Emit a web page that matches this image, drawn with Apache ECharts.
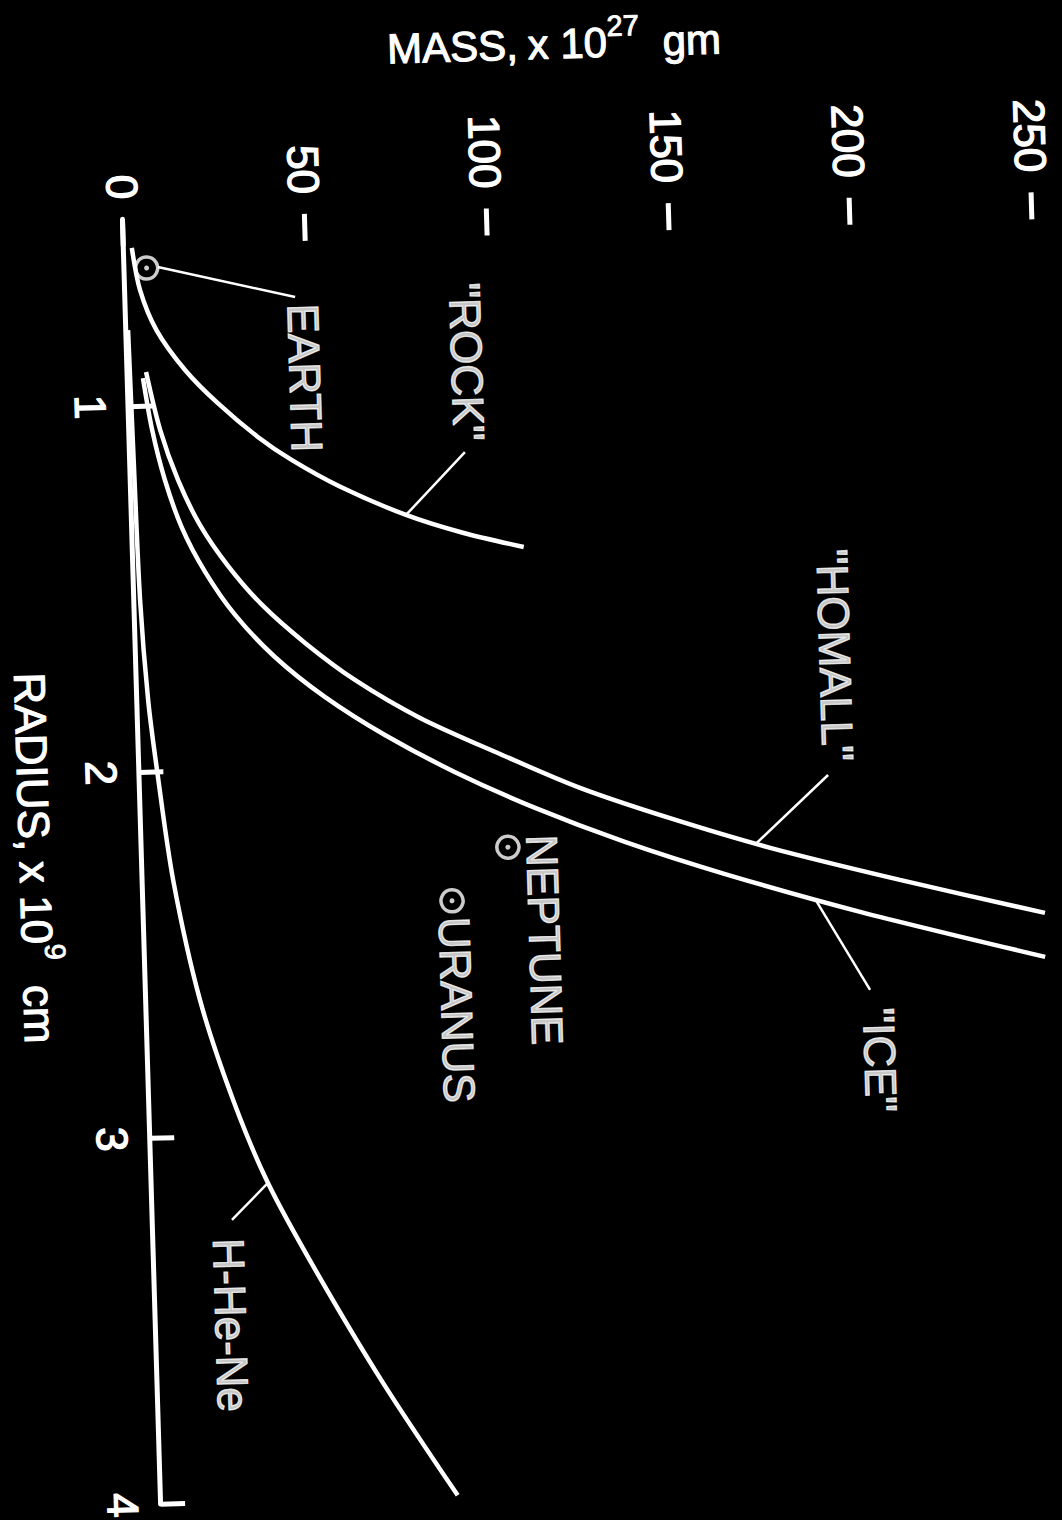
<!DOCTYPE html>
<html>
<head>
<meta charset="utf-8">
<script src="https://cdn.jsdelivr.net/npm/echarts@6/dist/echarts.min.js"></script>
<style>
  html, body { margin: 0; padding: 0; background: #000; width: 1062px; height: 1520px; overflow: hidden; }
  /* The plot is laid out with radius running left-to-right and mass upward,
     then the whole panel is turned so radius runs down the page. */
  #plot {
    position: absolute; left: 0; top: 0;
    width: 1700px; height: 1300px;
    transform-origin: 0 0;
    transform: translate(1215.06px, -63.25px) rotate(88.3deg);
    background: #000;
  }
</style>
</head>
<body>
<div id="plot"></div>
<script>
// Radius in units of 10^9 cm, mass in units of 10^27 g.
const radiusTicks = [1, 2, 3, 4];
const massTicks = [0, 50, 100, 150, 200, 250];

const rockRadius = [0.569, 0.684, 0.795, 0.907, 0.999, 1.095, 1.161, 1.236, 1.320, 1.374, 1.417];
const rockMass   = [2.2, 4.1, 8.3, 15.9, 24.5, 35.3, 44.5, 57.3, 75.4, 91.1, 107.5];

const homallRadius = [0.909, 1.068, 1.206, 1.331, 1.445, 1.554, 1.661, 1.766, 1.875, 1.980, 2.079, 2.169, 2.258, 2.356, 2.458];
const homallMass   = [5.1, 8.5, 13.0, 18.7, 26.1, 35.1, 46.6, 60.0, 77.6, 99.3, 121.0, 145.5, 172.8, 208.2, 247.8];

const iceRadius = [0.925, 1.067, 1.205, 1.337, 1.459, 1.579, 1.697, 1.810, 1.919, 2.026, 2.130, 2.230, 2.326, 2.440, 2.578];
const iceMass   = [4.2, 6.3, 9.4, 13.7, 19.7, 27.6, 38.2, 51.6, 67.8, 86.8, 108.5, 132.9, 160.2, 197.0, 247.5];

const hheneRadius = [0.793, 1.162, 1.530, 1.804, 1.999, 2.297, 2.627, 2.903, 3.132, 3.382, 3.687, 4.000];
const hheneMass   = [0.5, 1.0, 1.6, 3.0, 4.9, 8.4, 14.8, 23.1, 32.0, 44.8, 62.0, 81.6];

const planetNames  = ['EARTH', 'NEPTUNE', 'URANUS'];
const planetRadius = [0.625, 2.235, 2.377];
const planetMass   = [6.1, 100.7, 84.9];

// Annotation text anchors and leader lines, in (radius, mass) coordinates.
const annotations = [
  { text: 'EARTH',    at: [0.938, 48.8],  leader: [[0.623, 9.2], [0.716, 46.7]] },
  { text: '"ROCK"',   at: [0.907, 93.4],  leader: [[1.153, 92.1], [1.320, 75.4]] },
  { text: '"HOMALL"', at: [1.737, 192.2], leader: [[2.064, 189.3], [2.245, 169.0]] },
  { text: '"ICE"',    at: [2.846, 201.3], leader: [[2.654, 199.1], [2.401, 184.7]] },
  { text: 'NEPTUNE',  at: [2.491, 110.1] },
  { text: 'URANUS',   at: [2.675, 85.4] },
  { text: 'H-He-Ne',  at: [3.517, 20.7],  leader: [[3.230, 21.8], [3.132, 32.0]] }
];

const FONT = '"Liberation Sans", Arial, Helvetica, sans-serif';
const INK = '#ffffff';
// Hand-lettered text is heavier than the regular face, so each glyph gets a thin outline.
const HEAVY = { textBorderColor: INK, textBorderWidth: 1.3 };

function zip(xs, ys) { return xs.map((x, i) => [x, ys[i]]); }

function curve(name, rs, ms) {
  return {
    name: name, type: 'line', data: zip(rs, ms),
    smooth: 0.3, symbol: 'none', clip: true,
    lineStyle: { color: INK, width: 4.5 }, z: 3
  };
}

const series = [
  curve('ROCK', rockRadius, rockMass),
  curve('HOMALL', homallRadius, homallMass),
  curve('ICE', iceRadius, iceMass),
  curve('H-He-Ne', hheneRadius, hheneMass)
];

annotations.filter(a => a.leader).forEach(a => {
  series.push({
    type: 'line', data: a.leader, symbol: 'none', silent: true,
    lineStyle: { color: INK, width: 2.5 }, z: 2
  });
});

series.push({
  type: 'scatter', name: 'planets',
  data: planetNames.map((n, i) => ({ name: n, value: [planetRadius[i], planetMass[i]] })),
  symbol: 'circle', symbolSize: 22,
  itemStyle: { color: 'rgba(0,0,0,0)', borderColor: INK, borderWidth: 3.5 }, z: 4
});
series.push({
  type: 'scatter',
  data: planetNames.map((n, i) => [planetRadius[i], planetMass[i]]),
  symbol: 'circle', symbolSize: 5,
  itemStyle: { color: INK }, z: 4
});

series.push({
  type: 'scatter', silent: true,
  data: annotations.map(a => ({ name: a.text, value: a.at })),
  symbolSize: 1, itemStyle: { color: 'rgba(0,0,0,0)' },
  label: Object.assign({
    show: true, position: 'inside', formatter: '{b}',
    color: INK, fontSize: 44, fontFamily: FONT
  }, HEAVY),
  z: 5
});

const option = {
  backgroundColor: '#000',
  animation: false,
  grid: { left: 250, top: 81.9, width: 1285.4, height: 1018.1, containLabel: false, outerBoundsMode: 'none' },
  xAxis: {
    type: 'value', min: 0.49, max: 4,
    axisLine: { show: true, onZero: false, lineStyle: { color: INK, width: 5 } },
    axisTick: { show: true, inside: true, length: 24, customValues: radiusTicks, lineStyle: { color: INK, width: 5 } },
    axisLabel: Object.assign({ customValues: radiusTicks, color: INK, fontSize: 44, fontFamily: FONT, margin: 16 }, HEAVY),
    splitLine: { show: false }
  },
  yAxis: {
    type: 'value', min: 0, max: 280,
    axisLine: { show: false, onZero: false },
    axisTick: { show: true, inside: true, length: 27, customValues: massTicks, lineStyle: { color: INK, width: 5 } },
    axisLabel: Object.assign({ customValues: massTicks, color: INK, fontSize: 44, fontFamily: FONT, margin: 20 }, HEAVY),
    splitLine: { show: false }
  },
  graphic: [
    {
      type: 'text', x: 87.6, y: 664, rotation: Math.PI / 2, silent: true,
      style: {
        text: '{a|MASS,}   {a|x 10}{s|27}{a|  gm}',
        rich: {
          a: { fill: INK, stroke: INK, lineWidth: 1.1, fontSize: 42, fontFamily: FONT, lineHeight: 62 },
          s: { fill: INK, stroke: INK, lineWidth: 0.9, fontSize: 29, fontFamily: FONT, lineHeight: 22, verticalAlign: 'top' }
        },
        fill: INK, align: 'center', verticalAlign: 'middle'
      }
    },
    {
      type: 'text', x: 885.8, y: 1206.9, silent: true,
      style: {
        text: '{a|RADIUS,}   {a|x 10}{s|9}{a|  cm}',
        rich: {
          a: { fill: INK, stroke: INK, lineWidth: 1.1, fontSize: 44, fontFamily: FONT, lineHeight: 64 },
          s: { fill: INK, stroke: INK, lineWidth: 0.9, fontSize: 29, fontFamily: FONT, lineHeight: 20, verticalAlign: 'top' }
        },
        fill: INK, align: 'center', verticalAlign: 'middle'
      }
    }
  ],
  series: series
};

const chart = echarts.init(document.getElementById('plot'), null, { renderer: 'svg', width: 1700, height: 1300 });
chart.setOption(option);
</script>
</body>
</html>
